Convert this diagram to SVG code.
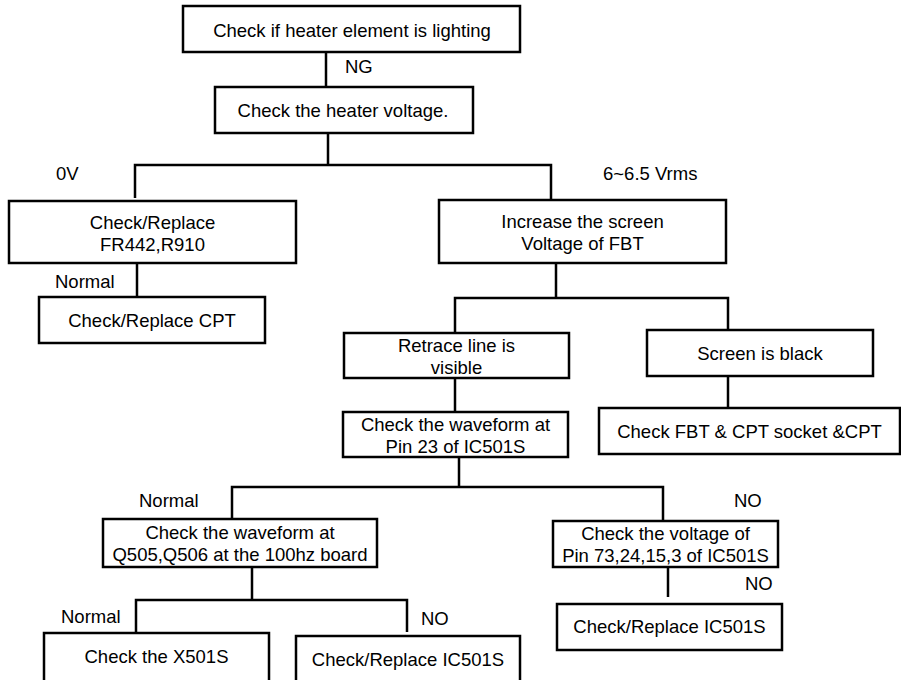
<svg xmlns="http://www.w3.org/2000/svg" width="901" height="680" viewBox="0 0 901 680">
<style>
.box{fill:#fff;stroke:#000;stroke-width:2.5}
.ln{fill:none;stroke:#000;stroke-width:2.5}
text{font-family:"Liberation Sans",Arial,sans-serif;font-size:18.5px;fill:#000}
.c{text-anchor:middle}
</style>
<rect width="901" height="680" fill="#fff"/>
<g id="connectors">
<path class="ln" d="M326,52V87"/>
<path class="ln" d="M328,133V165M135,198V165H551V200"/>
<path class="ln" d="M137,263V297"/>
<path class="ln" d="M556,263V298M455,333V298H728V330"/>
<path class="ln" d="M728,376V408"/>
<path class="ln" d="M455,378V412"/>
<path class="ln" d="M459,457V487M232,519V487H663V521"/>
<path class="ln" d="M668,567V597"/>
<path class="ln" d="M252,567V600M136,633V600H407V632"/>
<text x="345" y="73">NG</text>
<text x="56" y="180">0V</text>
<text x="603" y="180">6~6.5 Vrms</text>
<text x="55" y="288">Normal</text>
<text x="139" y="507">Normal</text>
<text x="734" y="507">NO</text>
<text x="745" y="590">NO</text>
<text x="61" y="623">Normal</text>
<text x="421" y="625">NO</text>
</g>
<g id="n1"><rect class="box" x="183" y="6" width="337" height="46"/><text class="c" x="352" y="37">Check if heater element is lighting</text></g>
<g id="n2"><rect class="box" x="215" y="87" width="258" height="46"/><text class="c" x="343" y="117">Check the heater voltage.</text></g>
<g id="n3"><rect class="box" x="9" y="201" width="287" height="62"/><text class="c" x="152.5" y="229">Check/Replace</text><text class="c" x="152.5" y="251">FR442,R910</text></g>
<g id="n4"><rect class="box" x="439" y="200" width="287" height="63"/><text class="c" x="582.5" y="228">Increase the screen</text><text class="c" x="582.5" y="250">Voltage of FBT</text></g>
<g id="n5"><rect class="box" x="39" y="297" width="226" height="46"/><text class="c" x="152" y="327">Check/Replace CPT</text></g>
<g id="n6"><rect class="box" x="344" y="333" width="225" height="45"/><text class="c" x="456.5" y="352">Retrace line is</text><text class="c" x="456.5" y="374">visible</text></g>
<g id="n7"><rect class="box" x="647" y="330" width="226" height="46"/><text class="c" x="760" y="360">Screen is black</text></g>
<g id="n8"><rect class="box" x="599" y="408" width="301" height="46"/><text class="c" x="749.5" y="438">Check FBT &amp; CPT socket &amp;CPT</text></g>
<g id="n9"><rect class="box" x="343" y="412" width="225" height="45"/><text class="c" x="455.5" y="431">Check the waveform at</text><text class="c" x="455.5" y="453">Pin 23 of IC501S</text></g>
<g id="n10"><rect class="box" x="103" y="519" width="274" height="48"/><text class="c" x="240" y="539">Check the waveform at</text><text class="c" x="240" y="561">Q505,Q506 at the 100hz board</text></g>
<g id="n11"><rect class="box" x="553" y="521" width="225" height="46"/><text class="c" x="665.5" y="540">Check the voltage of</text><text class="c" x="665.5" y="562">Pin 73,24,15,3 of IC501S</text></g>
<g id="n12"><rect class="box" x="557" y="604" width="225" height="46"/><text class="c" x="669.5" y="633">Check/Replace IC501S</text></g>
<g id="n13"><rect class="box" x="44" y="633" width="225" height="70"/><text class="c" x="156.5" y="663">Check the X501S</text></g>
<g id="n14"><rect class="box" x="296" y="636" width="224" height="70"/><text class="c" x="408" y="666">Check/Replace IC501S</text></g>
</svg>
